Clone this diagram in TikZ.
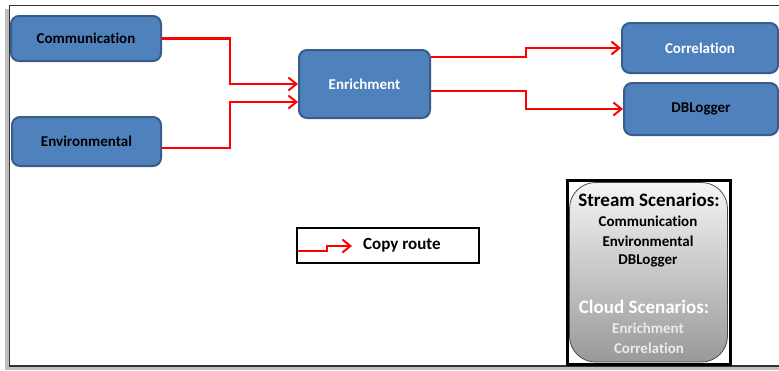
\documentclass[tikz,border=0pt]{standalone}
\usepackage{fontspec}
\setmainfont{Carlito}[Ligatures=CommonOff]
\usetikzlibrary{arrows.meta}
\definecolor{boxblue}{HTML}{4F81BD}
\definecolor{boxline}{HTML}{385D8A}
\definecolor{routered}{HTML}{FF0000}
\begin{document}
\begin{tikzpicture}[x=1pt,y=-1pt,
    block/.style={draw=boxline, line width=2pt, fill=boxblue, rounded corners=8pt,
        font=\fontsize{15}{18}\selectfont\bfseries},
    route/.style={routered, line width=2.2pt,
        -{Straight Barb[length=8pt,width=13pt,line width=2pt]}},
    scen/.style={font=\fontsize{15}{18}\selectfont\bfseries, inner sep=0pt}]
    \useasboundingbox (0,0) rectangle (779,370);
    % page frame with its shadow
    \fill[black!25] (5,9) rectangle (800,370);
    \draw[fill=white, draw=black!80, line width=1.2pt] (9.5,5.5) rectangle (800,366);
    % blocks
    \node[block, minimum width=150, minimum height=45] (comm) at (86,38.5) {Communication};
    \node[block, minimum width=149, minimum height=49] (env) at (86.5,141.5) {Environmental};
    \node[block, text=white, minimum width=131, minimum height=68] (enrich) at (364.5,84) {Enrichment};
    \node[block, text=white, minimum width=156, minimum height=50] (corr) at (700,48) {Correlation};
    \node[block, minimum width=154, minimum height=52] (dblog) at (701,109) {DBLogger};
    % copy routes
    \draw[route] (comm.east) -- ++(68,0) |- (enrich.west);
    \draw[route] ([yshift=-6.5pt]env.east) -- ++(68,0) |- ([yshift=-18pt]enrich.west);
    \draw[route] ([yshift=27pt]enrich.east) -- ++(95,0) |- (corr.west);
    \draw[route] ([yshift=-7pt]enrich.east) -- ++(95,0) |- (dblog.west);
    % legend
    \node[draw, fill=white, line width=2.5pt, minimum width=182, minimum height=35] (legend) at (388,245.5) {};
    \node[anchor=west, inner sep=0pt, font=\fontsize{17}{20}\selectfont\bfseries] (lbl) at (363,245) {Copy route};
    \coordinate (tip) at (352,246);
    \draw[route] ([xshift=2pt,yshift=-5.5pt]legend.west) -- ++(29,0) |- (tip);
    % scenarios
    \node[draw, fill=white, line width=3pt, minimum width=163, minimum height=184] (scbox) at (648.5,272) {};
    \shade[top color=white!96!black, bottom color=black!40, draw=black!70, line width=0.8pt,
        rounded corners=26pt] (569.5,182.5) rectangle (727.5,362);
    \node[scen, font=\fontsize{19}{22}\selectfont\bfseries] (stream) at (649,200) {Stream Scenarios:};
    \node[scen] (s1) at (648,221) {Communication};
    \node[scen] (s2) at (648,241) {Environmental};
    \node[scen] (s3) at (648,261) {DBLogger};
    \node[scen, text=white, font=\fontsize{19}{22}\selectfont\bfseries] (cloud) at (644,307) {Cloud Scenarios:};
    \node[scen, text=white!92!black] (c1) at (648,328) {Enrichment};
    \node[scen, text=white!92!black] (c2) at (649,348) {Correlation};
\end{tikzpicture}
\end{document}
